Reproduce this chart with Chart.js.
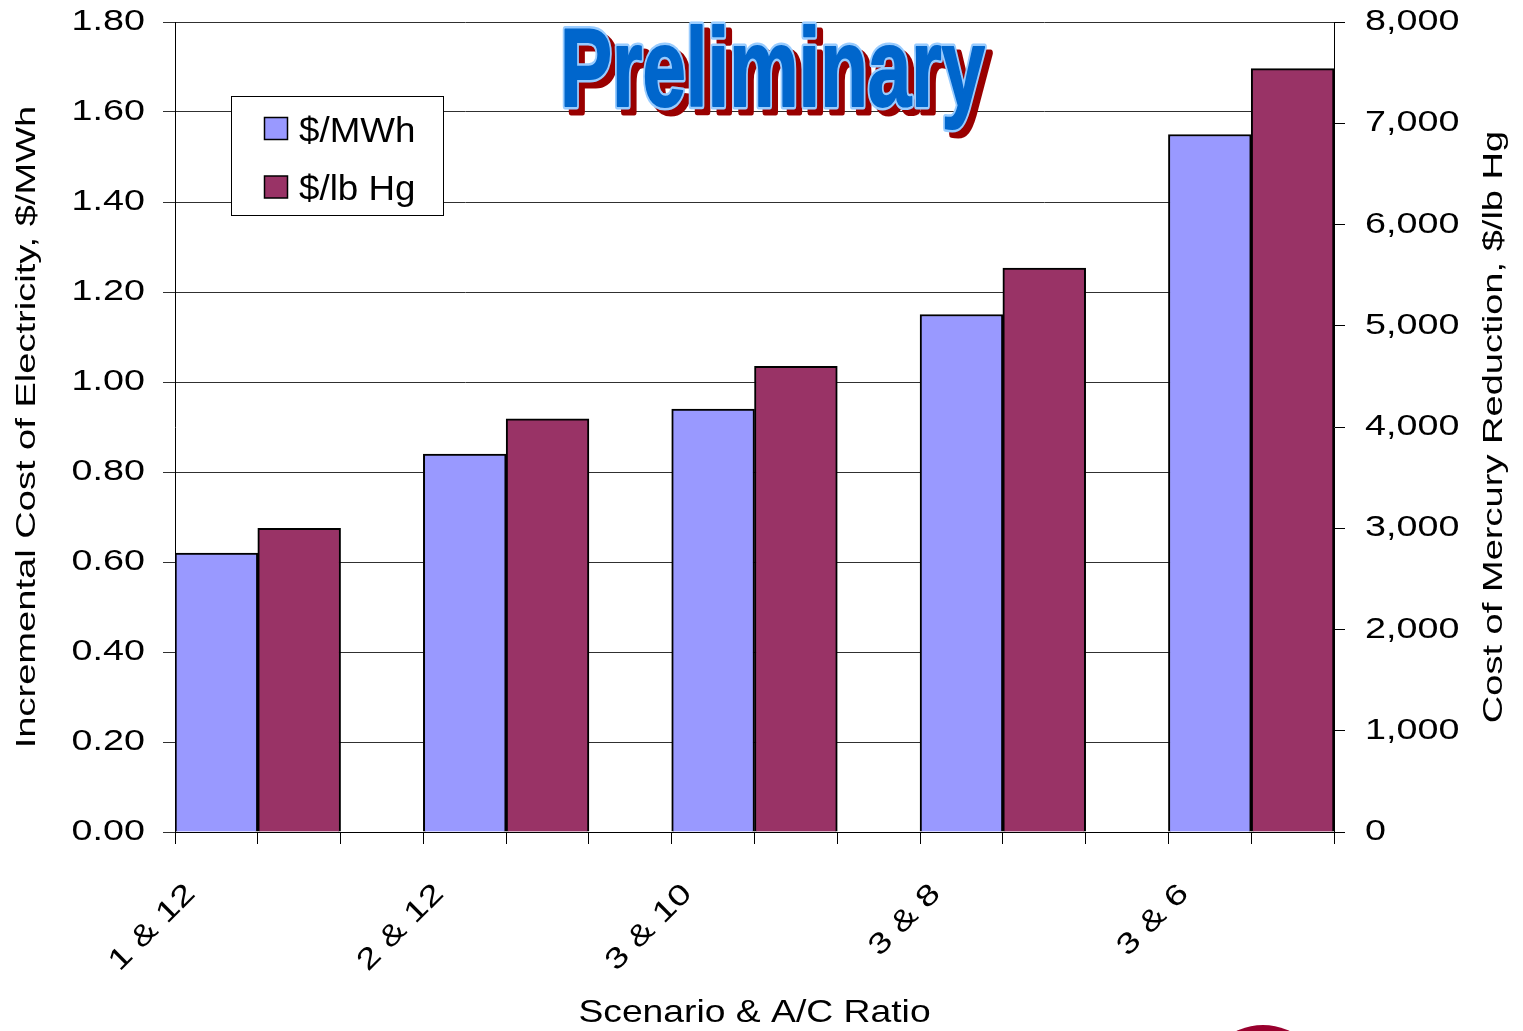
<!DOCTYPE html>
<html>
<head>
<meta charset="utf-8">
<script src="https://cdn.jsdelivr.net/npm/chart.js@4.4.1/dist/chart.umd.min.js"></script>
<style>
  html, body { margin: 0; padding: 0; background: #fff; overflow: hidden; }
  canvas { display: block; }
</style>
</head>
<body>
<canvas id="c" width="1523" height="1031"></canvas>
<script>
// ---------------- data ----------------
const categories   = ['1 & 12', '2 & 12', '3 & 10', '3 & 8', '3 & 6'];
const costPerMWh   = [0.62, 0.84, 0.94, 1.15, 1.55];          // left axis
const costPerLbHg  = [3000, 4080, 4600, 5570, 7540];          // right axis
const seriesLabels = ['$/MWh', '$/lb Hg'];
const leftTitle    = 'Incremental Cost of Electricity, $/MWh';
const rightTitle   = 'Cost of Mercury Reduction, $/lb Hg';
const xTitle       = 'Scenario & A/C Ratio';
const bannerText   = 'Preliminary';

// ---------------- styling ----------------
const FAMILY = "'Liberation Sans', Arial, sans-serif";
const BLUE = '#9999FF', MAROON = '#993366';
const SLOTS = 3;   // each category spans three tick slots (two bars + gap)

// the original's text is drawn horizontally widened; the factor depends on the element (keyed by font px)
const TEXT_STRETCH = { '29': 1.3, '28': 1.36, '32': 1.165, '35': 1.05 };

function installTextStretch(ctx) {
  const fill = ctx.fillText.bind(ctx);
  const measure = ctx.measureText.bind(ctx);
  const factor = () => {
    const m = /(\d+(?:\.\d+)?)px/.exec(ctx.font);
    return m ? (TEXT_STRETCH[m[1]] || 1) : 1;
  };
  ctx.fillText = function (t, x, y, w) {
    const s = factor();
    if (s === 1) return fill(t, x, y, w);
    ctx.save();
    ctx.translate(x, y);
    ctx.scale(s, 1);
    if (w !== undefined) fill(t, 0, 0, w / s); else fill(t, 0, 0);
    ctx.restore();
  };
  ctx.measureText = function (t) {
    const m = measure(t);
    const s = factor();
    if (s === 1) return m;
    return {
      width: m.width * s,
      actualBoundingBoxLeft: m.actualBoundingBoxLeft * s,
      actualBoundingBoxRight: m.actualBoundingBoxRight * s,
      actualBoundingBoxAscent: m.actualBoundingBoxAscent,
      actualBoundingBoxDescent: m.actualBoundingBoxDescent,
      fontBoundingBoxAscent: m.fontBoundingBoxAscent,
      fontBoundingBoxDescent: m.fontBoundingBoxDescent
    };
  };
}

const decor = {
  id: 'decor',
  afterDraw(chart) {
    const ctx = chart.ctx;
    const area = chart.chartArea;

    // right axis title (reads bottom-to-top like the left one)
    ctx.save();
    ctx.font = '28px ' + FAMILY;
    ctx.fillStyle = '#000';
    ctx.textAlign = 'center';
    ctx.textBaseline = 'middle';
    ctx.translate(1494, (area.top + area.bottom) / 2);
    ctx.rotate(-Math.PI / 2);
    ctx.fillText(rightTitle, 0, 0);
    ctx.restore();

    // legend box
    ctx.save();
    ctx.fillStyle = '#fff';
    ctx.fillRect(231.5, 96.5, 212, 119);
    ctx.strokeStyle = '#000';
    ctx.lineWidth = 1;
    ctx.strokeRect(231.5, 96.5, 212, 119);
    const rows = [117, 175.5];
    chart.data.datasets.forEach((ds, i) => {
      ctx.fillStyle = ds.backgroundColor;
      ctx.fillRect(264.5, rows[i] + 0.5, 23, 22);
      ctx.lineWidth = 1.5;
      ctx.strokeStyle = '#000';
      ctx.strokeRect(264.5, rows[i] + 0.5, 23, 22);
      ctx.fillStyle = '#000';
      ctx.font = '35px ' + FAMILY;
      ctx.textAlign = 'left';
      ctx.textBaseline = 'alphabetic';
      ctx.fillText(ds.label, 299, rows[i] + 24.5);
    });
    ctx.restore();

    // "Preliminary" banner
    ctx.save();
    ctx.font = 'bold 112px ' + FAMILY;
    const natural = ctx.measureText(bannerText).width;
    const sx = 425 / natural;
    ctx.translate(560, 106);
    ctx.scale(sx, 1);
    ctx.lineJoin = 'round';
    ctx.textBaseline = 'alphabetic';
    ctx.textAlign = 'left';
    // shadow
    ctx.fillStyle = '#990000';
    ctx.strokeStyle = '#990000';
    ctx.lineWidth = 7;
    ctx.strokeText(bannerText, 6 / sx, 6);
    ctx.fillText(bannerText, 6 / sx, 6);
    // light outline + fill
    ctx.strokeStyle = '#99CCFF';
    ctx.lineWidth = 7;
    ctx.strokeText(bannerText, 0, 0);
    ctx.fillStyle = '#0066CC';
    ctx.fillText(bannerText, 0, 0);
    ctx.strokeStyle = '#0066CC';
    ctx.lineWidth = 2;
    ctx.strokeText(bannerText, 0, 0);
    ctx.restore();

    // partial logo at bottom edge
    ctx.save();
    ctx.fillStyle = '#99002E';
    ctx.beginPath();
    ctx.arc(1263, 1087, 62, 0, Math.PI * 2);
    ctx.fill();
    ctx.restore();
  }
};

Chart.defaults.font.family = FAMILY;
Chart.defaults.color = '#000';

const canvas = document.getElementById('c');
const ctx2d = canvas.getContext('2d');
installTextStretch(ctx2d);

const fitY = w => s => { s.width = w; s.paddingTop = 0; s.paddingBottom = 0; };

new Chart(ctx2d, {
  type: 'bar',
  data: {
    datasets: [
      {
        label: seriesLabels[0],
        data: costPerMWh.map((v, i) => ({ x: i * SLOTS + 0.5, y: v })),
        yAxisID: 'y',
        backgroundColor: BLUE,
        borderColor: '#000',
        borderWidth: 2,
        grouped: false,
        barPercentage: 1,
        categoryPercentage: 1
      },
      {
        label: seriesLabels[1],
        data: costPerLbHg.map((v, i) => ({ x: i * SLOTS + 1.5, y: v })),
        yAxisID: 'y1',
        backgroundColor: MAROON,
        borderColor: '#000',
        borderWidth: 2,
        grouped: false,
        barPercentage: 1,
        categoryPercentage: 1
      }
    ]
  },
  options: {
    responsive: false,
    animation: false,
    devicePixelRatio: 1,
    layout: { padding: { top: 22, left: 0, right: 0, bottom: 0 } },
    plugins: { legend: { display: false }, tooltip: { enabled: false } },
    scales: {
      x: {
        type: 'linear',
        position: 'bottom',
        offset: false,
        min: 0,
        max: categories.length * SLOTS - 1,
        afterFit: s => { s.height = 199; s.paddingLeft = 0; s.paddingRight = 0; },
        border: { display: true, color: '#000', width: 1 },
        grid: { offset: false, drawOnChartArea: false, drawTicks: true, tickLength: 12, color: '#000' },
        ticks: {
          stepSize: 1,
          autoSkip: false,
          minRotation: 45,
          maxRotation: 45,
          padding: 33,
          labelOffset: 16,
          font: { size: 29 },
          callback: v => {
            const r = Math.round(v);
            return (r % SLOTS === 0 && r / SLOTS < categories.length) ? categories[r / SLOTS] : '';
          }
        },
        title: {
          display: true,
          text: xTitle,
          font: { size: 32, lineHeight: 1.1 },
          padding: { top: 0, bottom: 0 }
        }
      },
      y: {
        position: 'left',
        min: 0,
        max: 1.8,
        afterFit: fitY(175),
        border: { display: true, color: '#000', width: 1 },
        grid: { color: '#303030', lineWidth: 1, tickLength: 12 },
        ticks: {
          stepSize: 0.2,
          padding: 18,
          font: { size: 29 },
          callback: v => v.toFixed(2)
        },
        title: {
          display: true,
          text: leftTitle,
          font: { size: 28, lineHeight: 1.2 },
          padding: { top: 10, bottom: 0 }
        }
      },
      y1: {
        position: 'right',
        min: 0,
        max: 8000,
        afterFit: fitY(189),
        border: { display: true, color: '#000', width: 1 },
        grid: { drawOnChartArea: false, color: '#000', tickLength: 11 },
        ticks: {
          stepSize: 1000,
          padding: 20,
          font: { size: 29 },
          callback: v => v.toLocaleString('en-US')
        },
        title: { display: false }
      }
    }
  },
  plugins: [decor]
});
</script>
</body>
</html>
